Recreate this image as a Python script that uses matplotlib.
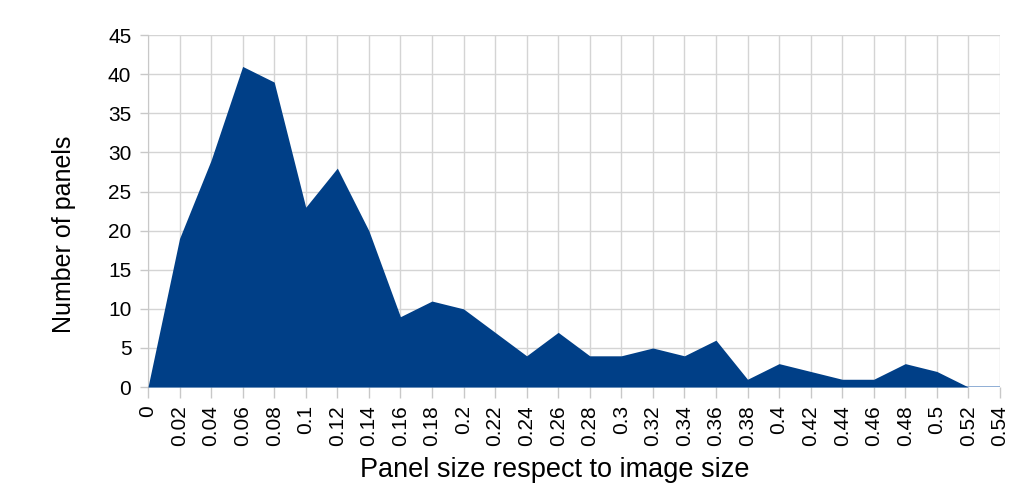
import matplotlib.pyplot as plt

plt.rcParams['font.family'] = ['Liberation Sans', 'DejaVu Sans']

# panel size bins and counts
sizes = [0, 0.02, 0.04, 0.06, 0.08, 0.1, 0.12, 0.14, 0.16, 0.18, 0.2, 0.22, 0.24, 0.26,
         0.28, 0.3, 0.32, 0.34, 0.36, 0.38, 0.4, 0.42, 0.44, 0.46, 0.48, 0.5, 0.52, 0.54]
counts = [0, 19, 29, 41, 39, 23, 28, 20, 9, 11, 10, 7, 4, 7,
          4, 4, 5, 4, 6, 1, 3, 2, 1, 1, 3, 2, 0, 0]
tick_labels = ['0', '0.02', '0.04', '0.06', '0.08', '0.1', '0.12', '0.14', '0.16', '0.18',
               '0.2', '0.22', '0.24', '0.26', '0.28', '0.3', '0.32', '0.34', '0.36', '0.38',
               '0.4', '0.42', '0.44', '0.46', '0.48', '0.5', '0.52', '0.54']
y_ticks = [0, 5, 10, 15, 20, 25, 30, 35, 40, 45]

fig = plt.figure(figsize=(10.24, 4.95), dpi=100)
ax = fig.add_axes([0.1445, 0.218, 0.832, 0.711])

ax.axhline(0, color='#7fa2d0', linewidth=1.2, zorder=2)
ax.fill_between(sizes, counts, 0, color='#003f87', linewidth=0, zorder=3)

ax.set_xlim(0, 0.54)
ax.set_ylim(0, 45)
ax.set_xticks(sizes)
ax.set_xticklabels(tick_labels, rotation=90, fontsize=15)
ax.set_yticks(y_ticks)
ax.tick_params(axis='y', labelsize=15, length=6, color='#c8c8c8', width=1, pad=6)
ax.tick_params(axis='x', length=8, color='#c8c8c8', width=1, pad=5)

ax.grid(True, color='#d4d4d4', linewidth=1, zorder=0)
ax.set_axisbelow(True)
for s in ['top', 'right', 'bottom']:
    ax.spines[s].set_visible(False)
ax.spines['left'].set_color('#c8c8c8')

ax.set_xlabel('Panel size respect to image size', fontsize=19.5)
ax.set_ylabel('Number of panels', fontsize=18)
ax.xaxis.set_label_coords(0.478, -0.198)
ax.yaxis.set_label_coords(-0.085, 0.435)

plt.savefig('out.png', dpi=100)
